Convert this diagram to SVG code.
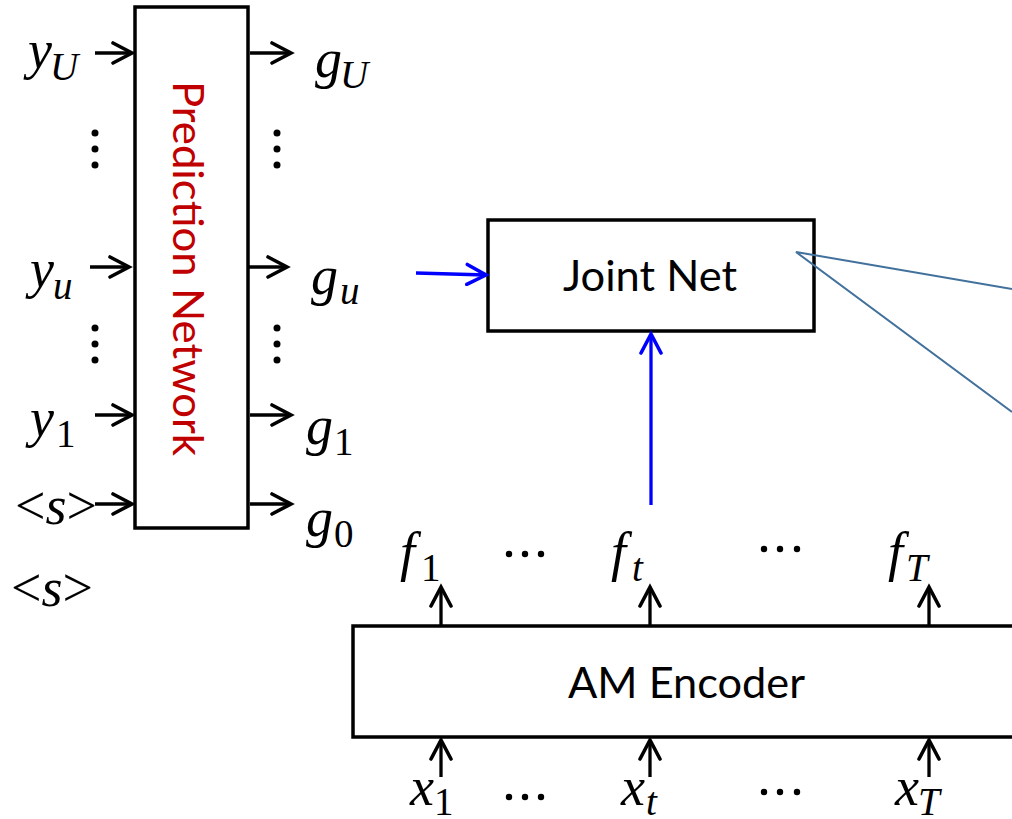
<svg xmlns="http://www.w3.org/2000/svg" width="1012" height="819" viewBox="0 0 1012 819">
<defs>
<style>
.box{fill:#fff;stroke:#000;stroke-width:3.5}
.lbl{font-family:"Lato","Open Sans",sans-serif;font-size:43px;fill:#000}
.m{font-family:"Liberation Serif","Times New Roman",serif;font-style:italic;font-size:54px;fill:#000}
.s{font-size:39px}
.up{font-style:normal}
.c{fill:none;stroke:#000;stroke-width:3.3}
.cb{fill:none;stroke:#0000FF;stroke-width:3.3}
.call{fill:none;stroke:#41719C;stroke-width:2}
.dot{fill:#000}
</style>
<marker id="ah" markerUnits="userSpaceOnUse" viewBox="-22 -12 26 24" refX="0" refY="0" markerWidth="26" markerHeight="24" orient="auto">
<path d="M-19,-10 L0,0 L-19,10" fill="none" stroke="#000" stroke-width="3.6" stroke-linecap="round"/>
</marker>
<marker id="ahb" markerUnits="userSpaceOnUse" viewBox="-22 -12 26 24" refX="0" refY="0" markerWidth="26" markerHeight="24" orient="auto">
<path d="M-19,-10 L0,0 L-19,10" fill="none" stroke="#0000FF" stroke-width="3.6" stroke-linecap="round"/>
</marker>
</defs>
<rect width="1012" height="819" fill="#fff"/>

<g id="prediction-network">
<rect class="box" x="135" y="7" width="113" height="521"/>
<text transform="translate(173,81) rotate(90)" font-family="Lato,'Open Sans',sans-serif" font-size="43" fill="#C00000" textLength="375" lengthAdjust="spacingAndGlyphs">Prediction Network</text>
</g>

<g id="joint-net">
<rect class="box" x="488" y="220" width="326" height="111"/>
<text class="lbl" x="563" y="291" textLength="174" lengthAdjust="spacingAndGlyphs">Joint Net</text>
</g>

<g id="am-encoder">
<rect class="box" x="353" y="626" width="700" height="111"/>
<text class="lbl" x="568" y="698" textLength="237" lengthAdjust="spacingAndGlyphs">AM Encoder</text>
</g>

<g id="connectors">
<line class="c" x1="95" y1="53" x2="132" y2="53" marker-end="url(#ah)"/>
<line class="c" x1="90" y1="267" x2="129" y2="267" marker-end="url(#ah)"/>
<line class="c" x1="95" y1="415" x2="132" y2="415" marker-end="url(#ah)"/>
<line class="c" x1="95" y1="504" x2="132" y2="504" marker-end="url(#ah)"/>
<line class="c" x1="250" y1="53" x2="291" y2="53" marker-end="url(#ah)"/>
<line class="c" x1="248" y1="267" x2="287" y2="267" marker-end="url(#ah)"/>
<line class="c" x1="250" y1="415" x2="291" y2="415" marker-end="url(#ah)"/>
<line class="c" x1="250" y1="504" x2="291" y2="504" marker-end="url(#ah)"/>
<line class="c" x1="441" y1="625" x2="441" y2="587" marker-end="url(#ah)"/>
<line class="c" x1="650" y1="625" x2="650" y2="587" marker-end="url(#ah)"/>
<line class="c" x1="929" y1="625" x2="929" y2="587" marker-end="url(#ah)"/>
<line class="c" x1="441" y1="777" x2="441" y2="740" marker-end="url(#ah)"/>
<line class="c" x1="650" y1="777" x2="650" y2="740" marker-end="url(#ah)"/>
<line class="c" x1="929" y1="777" x2="929" y2="740" marker-end="url(#ah)"/>
<line class="cb" x1="416" y1="273" x2="486" y2="275" marker-end="url(#ahb)"/>
<line class="cb" x1="651" y1="505" x2="651" y2="334" marker-end="url(#ahb)"/>
<polyline class="call" points="1012,289 796,252 1012,412"/>
</g>

<g id="labels">
<text class="m" x="28" y="68">y<tspan class="s" x="50" y="80">U</tspan></text>
<text class="m" x="30" y="287">y<tspan class="s" x="53" y="299">u</tspan></text>
<text class="m" x="30" y="436">y<tspan class="s up" x="56" y="447">1</tspan></text>
<text class="m" x="15" y="524" font-size="48"><tspan class="up">&lt;</tspan>s<tspan class="up">&gt;</tspan></text>
<text class="m" x="11" y="606" font-size="48"><tspan class="up">&lt;</tspan>s<tspan class="up">&gt;</tspan></text>
<text class="m" x="315" y="77">g<tspan class="s" x="340" y="88">U</tspan></text>
<text class="m" x="311" y="294">g<tspan class="s" x="340" y="304">u</tspan></text>
<text class="m" x="306" y="444">g<tspan class="s up" x="334" y="455">1</tspan></text>
<text class="m" x="306" y="536">g<tspan class="s up" x="334" y="547">0</tspan></text>
<text class="m" x="400" y="570">f<tspan class="s up" x="421" y="581">1</tspan></text>
<text class="m" x="611" y="570">f<tspan class="s" x="632" y="581">t</tspan></text>
<text class="m" x="888" y="570">f<tspan class="s" x="906" y="581">T</tspan></text>
<text class="m" x="410" y="805">x<tspan class="s up" x="434" y="815">1</tspan></text>
<text class="m" x="621" y="805">x<tspan class="s" x="646" y="815">t</tspan></text>
<text class="m" x="895" y="805">x<tspan class="s" x="918" y="815">T</tspan></text>
</g>

<g id="ellipses">
<circle class="dot" cx="95" cy="133" r="3.5"/><circle class="dot" cx="95" cy="149" r="3.5"/><circle class="dot" cx="95" cy="165" r="3.5"/>
<circle class="dot" cx="277" cy="133" r="3.5"/><circle class="dot" cx="277" cy="149" r="3.5"/><circle class="dot" cx="277" cy="165" r="3.5"/>
<circle class="dot" cx="95" cy="328" r="3.5"/><circle class="dot" cx="95" cy="344" r="3.5"/><circle class="dot" cx="95" cy="360" r="3.5"/>
<circle class="dot" cx="277" cy="328" r="3.5"/><circle class="dot" cx="277" cy="344" r="3.5"/><circle class="dot" cx="277" cy="360" r="3.5"/>
<circle class="dot" cx="509" cy="554" r="3.2"/><circle class="dot" cx="525" cy="554" r="3.2"/><circle class="dot" cx="541" cy="554" r="3.2"/>
<circle class="dot" cx="764" cy="549" r="3.2"/><circle class="dot" cx="780" cy="549" r="3.2"/><circle class="dot" cx="797" cy="549" r="3.2"/>
<circle class="dot" cx="509" cy="797" r="3.2"/><circle class="dot" cx="525" cy="797" r="3.2"/><circle class="dot" cx="541" cy="797" r="3.2"/>
<circle class="dot" cx="764" cy="792" r="3.2"/><circle class="dot" cx="780" cy="792" r="3.2"/><circle class="dot" cx="797" cy="792" r="3.2"/>
</g>
</svg>
